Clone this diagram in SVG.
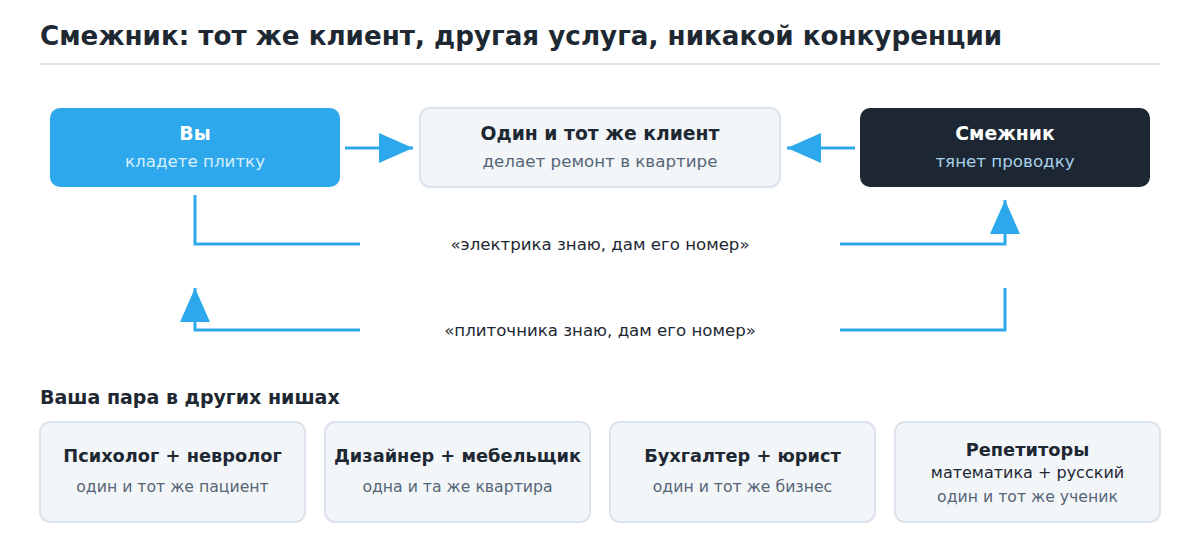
<svg xmlns="http://www.w3.org/2000/svg" width="1200" height="560" viewBox="0 0 1200 560">
<style>
text{font-family:"DejaVu Sans","Noto Sans",sans-serif}
.h{font-weight:bold;fill:#1e2833}
.c{text-anchor:middle}
.card{fill:#f3f6f9;stroke:#dde3ea;stroke-width:2}
.sub{fill:#566577;font-size:15.7px}
.ct{font-size:17.8px;font-weight:bold;fill:#1e2833}
.nt{font-size:18.8px;font-weight:bold}
.ns{font-size:16.7px}
.con{fill:none;stroke:#2ea8ec;stroke-width:3}
.lbl{font-size:16.6px;fill:#1e2833}
</style>
<defs>
<marker id="ah" viewBox="0 0 34 30" refX="34" refY="15" markerWidth="34" markerHeight="30" markerUnits="userSpaceOnUse" orient="auto">
<path d="M0,0 L34,15 L0,30 Z" fill="#2ea8ec"/>
</marker>
</defs>
<rect width="1200" height="560" fill="#ffffff"/>
<text x="40" y="45" class="h" font-size="26.2">Смежник: тот же клиент, другая услуга, никакой конкуренции</text>
<line x1="40" y1="64" x2="1160" y2="64" stroke="#dde3ea" stroke-width="2"/>

<g id="node-you">
<rect x="50" y="108" width="290" height="79" rx="10" fill="#2ea8ec"/>
<text x="195" y="140" class="c nt" fill="#ffffff">Вы</text>
<text x="195" y="167" class="c ns" fill="#d8effc">кладете плитку</text>
</g>
<g id="node-client">
<rect x="420" y="108" width="360" height="79" rx="10" class="card"/>
<text x="600" y="140" class="c nt" fill="#1e2833">Один и тот же клиент</text>
<text x="600" y="167" class="c ns" fill="#566577">делает ремонт в квартире</text>
</g>
<g id="node-partner">
<rect x="860" y="108" width="290" height="79" rx="10" fill="#1c2733"/>
<text x="1005" y="140" class="c nt" fill="#ffffff">Смежник</text>
<text x="1005" y="167" class="c ns" fill="#a9cfe8">тянет проводку</text>
</g>

<g id="connectors">
<line x1="345" y1="148" x2="413" y2="148" class="con" marker-end="url(#ah)"/>
<line x1="855" y1="148" x2="787" y2="148" class="con" marker-end="url(#ah)"/>
<polyline points="195,195 195,244 360,244" class="con"/>
<polyline points="840,244 1005,244 1005,200" class="con" marker-end="url(#ah)"/>
<polyline points="1005,288 1005,330 840,330" class="con"/>
<polyline points="360,330 195,330 195,288" class="con" marker-end="url(#ah)"/>
<text x="600" y="250" class="c lbl">«электрика знаю, дам его номер»</text>
<text x="600" y="336" class="c lbl">«плиточника знаю, дам его номер»</text>
</g>

<text x="40" y="404" class="h" font-size="19">Ваша пара в других нишах</text>

<g id="card-1">
<rect x="40" y="422" width="265" height="100" rx="10" class="card"/>
<text x="172.5" y="462" class="c ct">Психолог + невролог</text>
<text x="172.5" y="492" class="c sub">один и тот же пациент</text>
</g>
<g id="card-2">
<rect x="325" y="422" width="265" height="100" rx="10" class="card"/>
<text x="457.5" y="462" class="c ct">Дизайнер + мебельщик</text>
<text x="457.5" y="492" class="c sub">одна и та же квартира</text>
</g>
<g id="card-3">
<rect x="610" y="422" width="265" height="100" rx="10" class="card"/>
<text x="742.5" y="462" class="c ct">Бухгалтер + юрист</text>
<text x="742.5" y="492" class="c sub">один и тот же бизнес</text>
</g>
<g id="card-4">
<rect x="895" y="422" width="265" height="100" rx="10" class="card"/>
<text x="1027.5" y="456" class="c ct">Репетиторы</text>
<text x="1027.5" y="478" class="c" font-size="16" fill="#1e2833">математика + русский</text>
<text x="1027.5" y="502" class="c sub">один и тот же ученик</text>
</g>
</svg>
